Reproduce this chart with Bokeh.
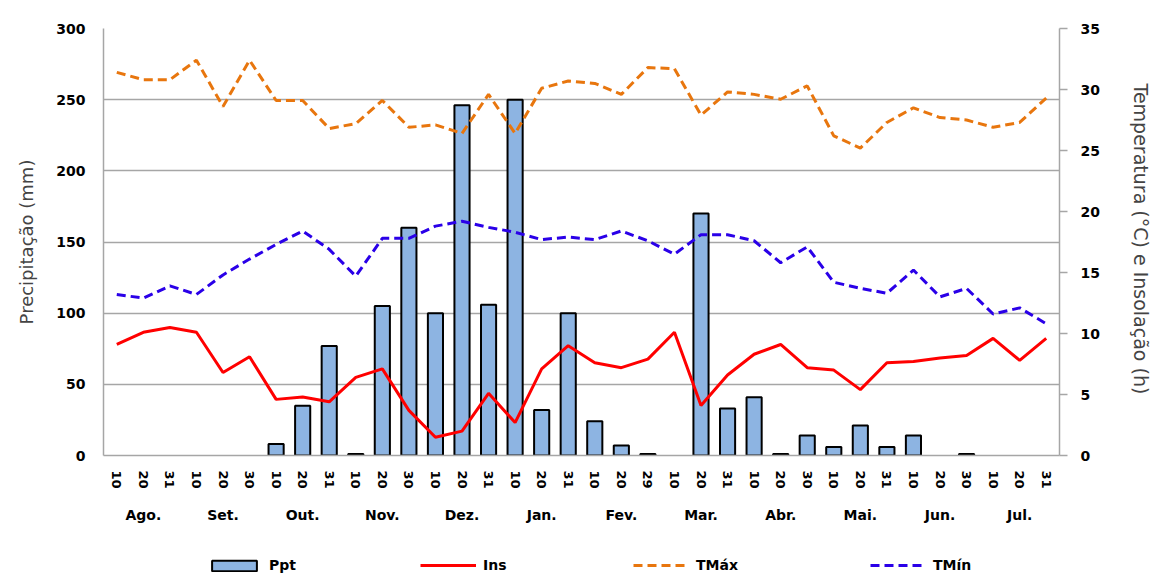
from bokeh.plotting import figure
from bokeh.layouts import column
from bokeh.models import (FactorRange, Range1d, LinearAxis, SingleIntervalTicker,
                          ColumnDataSource, Legend, LegendItem)
from bokeh.embed import file_html
from bokeh.resources import INLINE

NAN = float("nan")

months = ["Ago.", "Set.", "Out.", "Nov.", "Dez.", "Jan.", "Fev.", "Mar.", "Abr.", "Mai.", "Jun.", "Jul."]
days = [["10", "20", "31"], ["10", "20", "30"], ["10", "20", "31"], ["10", "20", "30"],
        ["10", "20", "31"], ["10", "20", "31"], ["10", "20", "29"], ["10", "20", "31"],
        ["10", "20", "30"], ["10", "20", "31"], ["10", "20", "30"], ["10", "20", "31"]]

ppt = [0, 0, 0, 0, 0, 0, 8, 35, 77, 1, 105, 160, 100, 246, 106, 250, 32, 100,
       24, 7, 1, 0, 170, 33, 41, 1, 14, 6, 21, 6, 14, 0, 1, 0, 0, 0]
ins = [9.1, 10.1, 10.5, 10.1, 6.8, 8.1, 4.6, 4.8, 4.4, 6.4, 7.1, 3.7, 1.5, 2.0, 5.1, 2.7, 7.1, 9.0,
       7.6, 7.2, 7.9, 10.1, 4.1, 6.6, 8.3, 9.1, 7.2, 7.0, 5.4, 7.6, 7.7, 8.0, 8.2, 9.6, 7.8, 9.6]
tmax = [31.4, 30.8, 30.8, 32.4, 28.6, 32.4, 29.1, 29.1, 26.8, 27.2, 29.1, 26.9, 27.1, 26.4, 29.6, 26.4, 30.1, 30.7,
        30.5, 29.6, 31.8, 31.7, 27.9, 29.8, 29.6, 29.2, 30.3, 26.2, 25.2, 27.3, 28.5, 27.7, 27.5, 26.9, 27.3, 29.3]
tmin = [13.2, 12.9, 13.9, 13.2, 14.8, 16.1, 17.3, 18.4, 16.9, 14.7, 17.8, 17.8, 18.8, 19.2, 18.7, 18.3, 17.7, 17.9,
        17.7, 18.4, 17.6, 16.5, 18.1, 18.1, 17.6, 15.8, 17.1, 14.2, 13.7, 13.3, 15.2, 13.0, 13.7, 11.6, 12.1, 10.8]
series_names = ["Ppt", "Ins", "TMáx", "TMín"]

factors = [(m, d) for m, ds in zip(months, days) for d in ds]

FONT = "DejaVu Sans"
GRID = "#a6a6a6"
BAR_FILL = "#8db4e2"
C_INS, C_TMAX, C_TMIN = "#ff0000", "#e8760e", "#2a00e8"

p = figure(width=1154, height=540, output_backend="svg", toolbar_location=None,
           x_range=FactorRange(factors=factors, factor_padding=0, group_padding=0,
                               subgroup_padding=0, range_padding=0),
           y_range=Range1d(0, 300),
           min_border_left=103, min_border_right=92, min_border_top=28, min_border_bottom=85)
p.outline_line_color = None
p.extra_y_ranges = {"temp": Range1d(0, 35)}

bar_src = ColumnDataSource(dict(x=[f for f, v in zip(factors, ppt) if v > 0],
                                top=[v for v in ppt if v > 0]))
p.vbar(x="x", top="top", width=0.57, source=bar_src, fill_color=BAR_FILL,
       line_color="black", line_width=2)

src = ColumnDataSource(dict(x=factors, ins=ins, tmax=tmax, tmin=tmin))
p.line("x", "ins", source=src, y_range_name="temp", line_color=C_INS, line_width=3)
p.line("x", "tmax", source=src, y_range_name="temp", line_color=C_TMAX,
       line_width=3, line_dash="9 5")
p.line("x", "tmin", source=src, y_range_name="temp", line_color=C_TMIN,
       line_width=3, line_dash="9 5")

# grid
p.xgrid.grid_line_color = None
p.ygrid.grid_line_color = GRID
p.ygrid.grid_line_width = 1.5
p.ygrid.ticker = SingleIntervalTicker(interval=50)

# left axis
ya = p.yaxis[0]
ya.ticker = SingleIntervalTicker(interval=50)
ya.axis_label = "Precipitação (mm)"
ya.axis_label_text_font = FONT
ya.axis_label_text_font_size = "18px"
ya.axis_label_text_font_style = "normal"
ya.axis_label_standoff = 16
ya.major_label_text_font = FONT
ya.major_label_text_font_size = "14px"
ya.major_label_text_font_style = "bold"
ya.major_label_text_color = "black"
ya.major_label_standoff = 18
ya.major_tick_out = 0
ya.major_tick_in = 0
ya.minor_tick_out = 0
ya.minor_tick_in = 0
ya.axis_line_color = GRID
ya.axis_line_width = 1.5

# right axis
ra = LinearAxis(y_range_name="temp", ticker=SingleIntervalTicker(interval=5))
ra.axis_label = "Temperatura  (°C) e Insolação (h)"
ra.axis_label_text_font = FONT
ra.axis_label_text_font_size = "19px"
ra.axis_label_text_font_style = "normal"
ra.axis_label_standoff = 27
ra.major_label_text_font = FONT
ra.major_label_text_font_size = "14px"
ra.major_label_text_font_style = "bold"
ra.major_label_text_color = "black"
ra.major_label_standoff = 13
ra.major_tick_out = 8
ra.major_tick_in = 0
ra.major_tick_line_color = GRID
ra.major_tick_line_width = 1.5
ra.minor_tick_out = 0
ra.minor_tick_in = 0
ra.axis_line_color = GRID
ra.axis_line_width = 1.5
p.add_layout(ra, "right")

# x axis
xa = p.xaxis[0]
xa.major_label_orientation = "vertical"
xa.major_label_text_font = FONT
xa.major_label_text_font_size = "13px"
xa.major_label_text_font_style = "bold"
xa.major_label_text_color = "black"
xa.major_label_standoff = 15
xa.group_text_font = FONT
xa.group_text_font_size = "14px"
xa.group_text_font_style = "bold"
xa.group_text_color = "black"
xa.group_label_orientation = "parallel"
xa.separator_line_color = None
xa.major_tick_out = 0
xa.major_tick_in = 0
xa.axis_line_color = GRID
xa.axis_line_width = 1.5

# legend strip below the chart (its frame is aligned with the chart frame, left = 103 px)
lg = figure(width=1154, height=34, output_backend="svg", toolbar_location=None,
            x_range=Range1d(0, 1), y_range=Range1d(0, 1),
            min_border_left=0, min_border_right=0, min_border_top=0, min_border_bottom=0)
lg.axis.visible = False
lg.grid.visible = False
lg.outline_line_color = None
# proxy renderers with no drawable data; they only supply the legend glyphs
g_ppt = lg.vbar(x=[NAN], top=[NAN], width=0.5, fill_color=BAR_FILL,
                line_color="black", line_width=2)
g_ins = lg.line(x=[NAN], y=[NAN], line_color=C_INS, line_width=3)
g_tmax = lg.line(x=[NAN], y=[NAN], line_color=C_TMAX, line_width=3, line_dash="9 5")
g_tmin = lg.line(x=[NAN], y=[NAN], line_color=C_TMIN, line_width=3, line_dash="9 5")

entries = [(series_names[0], g_ppt, 103, 13), (series_names[1], g_ins, 317, 14),
           (series_names[2], g_tmax, 530, 14), (series_names[3], g_tmin, 767, 14)]
for label, r, xoff, gh in entries:
    leg = Legend(items=[LegendItem(label=label, renderers=[r])], location=(xoff, 1),
                 orientation="horizontal", padding=0, margin=0, spacing=0,
                 glyph_width=56, glyph_height=gh, label_standoff=7,
                 label_text_font=FONT, label_text_font_size="14px",
                 label_text_font_style="bold", label_text_color="black",
                 border_line_color=None, background_fill_alpha=0)
    lg.add_layout(leg)

layout = column(p, lg, spacing=0)
open("out.html", "w").write(file_html(layout, INLINE))
